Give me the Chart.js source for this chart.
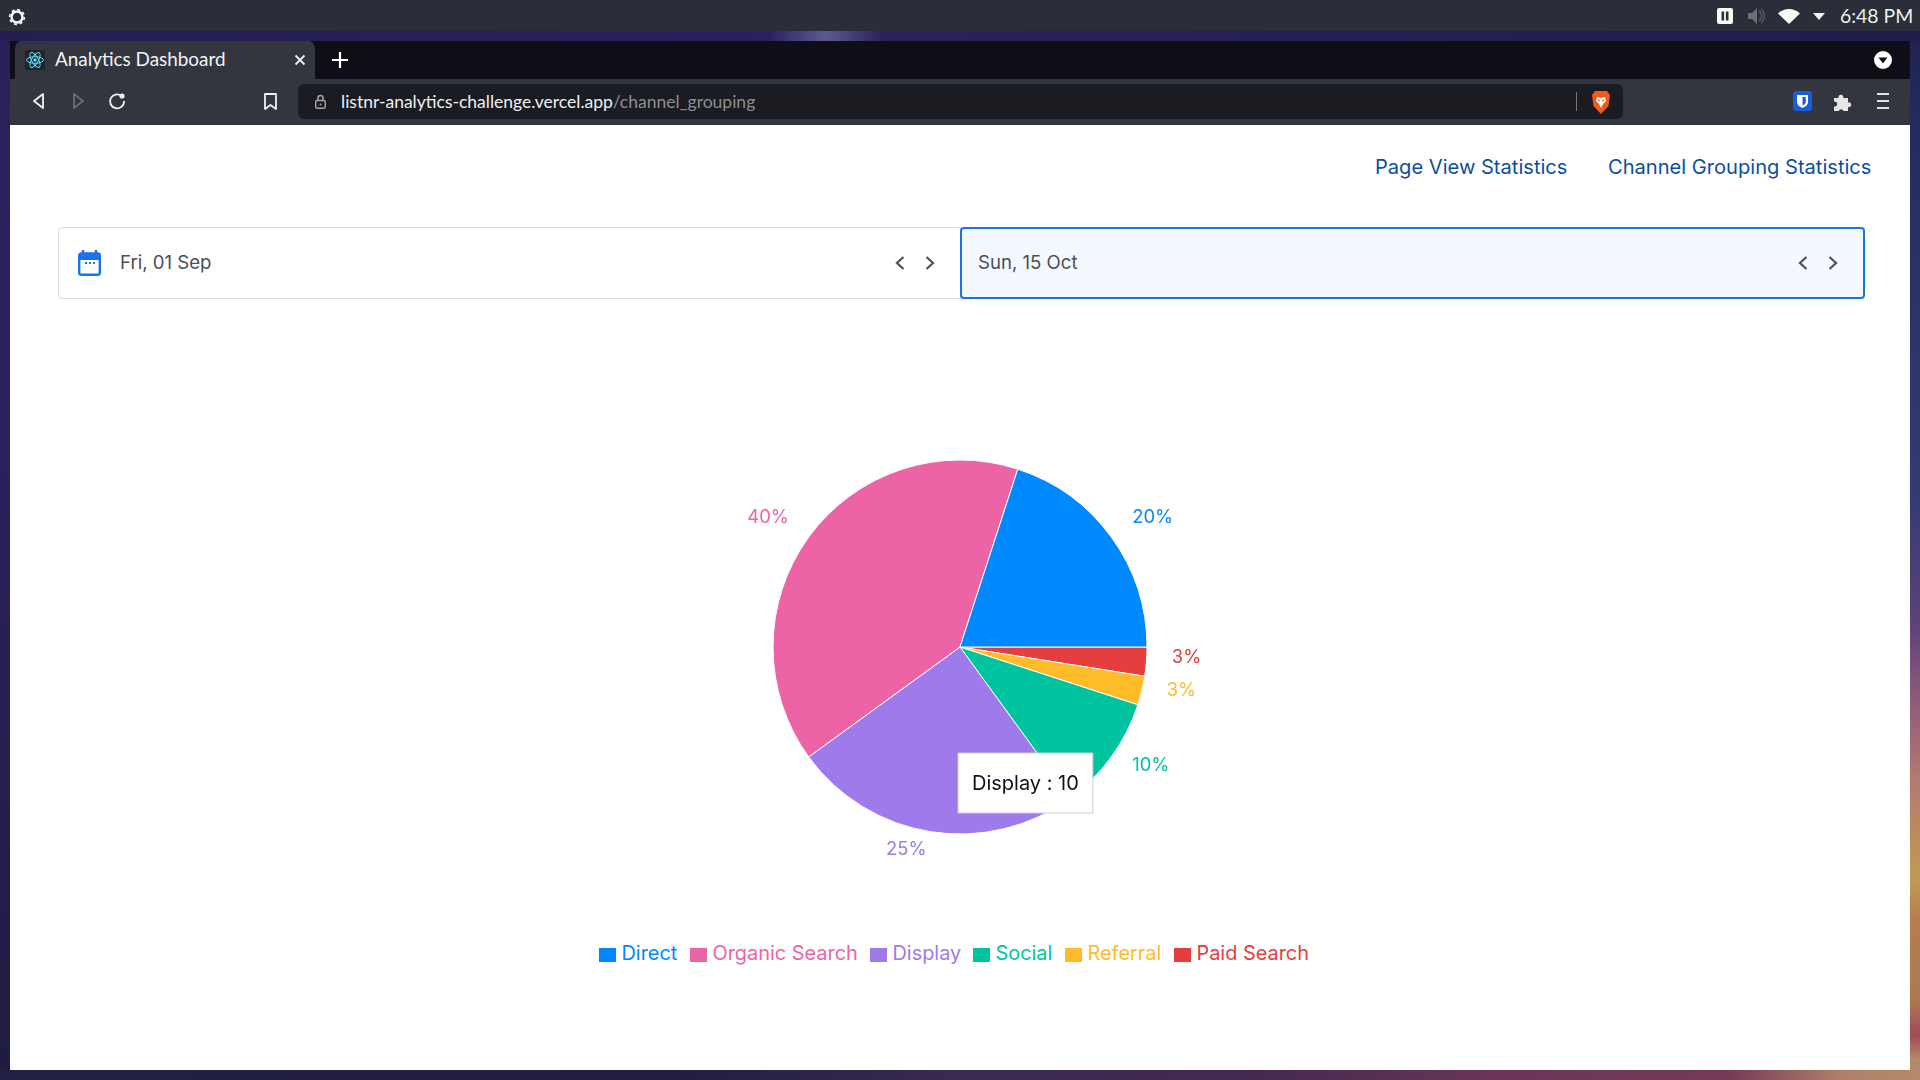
<!DOCTYPE html>
<html><head><meta charset="utf-8"><title>Analytics Dashboard</title>
<script src="https://cdn.jsdelivr.net/npm/chart.js@4"></script>
<style>
*{box-sizing:border-box}
html,body{margin:0;padding:0;width:1920px;height:1080px;overflow:hidden;background:#221f45;font-family:Inter,sans-serif}
.a{position:absolute}
.t{position:absolute;white-space:nowrap;line-height:1}
svg{position:absolute;overflow:visible}
</style></head><body>
<div class="a" style="left:0;top:0;width:10px;height:1080px;background:linear-gradient(#2a2058,#2c2160 30%,#261f50 70%,#1f1c40)"></div>
<div class="a" style="left:1910px;top:0;width:10px;height:1080px;background:linear-gradient(#1f1e4a 0,#262a5e 120px,#363a74 500px,#5a4278 620px,#8e5a7a 700px,#b47a70 780px,#c09a50 880px,#b57d50 920px,#ad7a50 1000px,#a04a58 1035px,#b48a6a 1060px,#b48a6a 1080px)"></div>
<div class="a" style="left:0;top:1070px;width:1920px;height:10px;background:linear-gradient(90deg,#221f45 0,#211d40 35%,#3a2a55 50%,#43294f 65%,#6a3558 78%,#763a58 90%,#b08068 96%,#b48a6a 100%)"></div>
<div class="a" style="left:0;top:31px;width:1920px;height:10px;background:linear-gradient(90deg,#241e50 0,#2a2060 40%,#5a5a92 43%,#2a2258 46%,#1e1d4c 100%)"></div>
<div class="a" style="left:0;top:0;width:1920px;height:31px;background:#2b2e39"></div>
<div class="a" style="left:10px;top:41px;width:1900px;height:38px;background:#0d0e16"></div>
<div class="a" style="left:15px;top:41px;width:300px;height:38px;background:#33363f;border-radius:7px 7px 0 0"></div>
<div class="a" style="left:10px;top:79px;width:1900px;height:46px;background:#33363f"></div>
<div class="a" style="left:298px;top:84px;width:1325px;height:35px;background:#1b1c22;border-radius:6px"></div>
<div class="a" style="left:10px;top:125px;width:1900px;height:945px;background:#fff"></div>

<!-- chrome icons -->
<svg style="left:7px;top:7px" width="20" height="20" viewBox="0 0 20 20"><circle cx="10" cy="10" r="5.5" fill="none" stroke="#fff" stroke-width="2.4"/><circle cx="10" cy="10" r="7.4" fill="none" stroke="#fff" stroke-width="1.5" stroke-dasharray="3 2.8"/></svg>
<svg style="left:1717px;top:8px" width="16" height="16"><rect width="16" height="16" rx="2" fill="#fbfbf5"/><rect x="4.5" y="3.5" width="2.6" height="9" fill="#2b2e39"/><rect x="8.9" y="3.5" width="2.6" height="9" fill="#2b2e39"/></svg>
<svg style="left:1748px;top:8px" width="17" height="16"><path d="M0 5h4l5-5v16l-5-5H0z" fill="#6d6f76"/><path d="M11 3a6 6 0 0 1 0 10M13 1a9 9 0 0 1 0 14" fill="none" stroke="#56585f" stroke-width="1.6"/></svg>
<svg style="left:1778px;top:9px" width="22" height="15"><path d="M0 4.5C6-1.500 16-1.500 22 4.500L11 15z" fill="#fafaf5"/></svg>
<svg style="left:1813px;top:13px" width="12" height="7"><path d="M0 0h12L6 7z" fill="#f2f2ee"/></svg>
<div class="t" style="left:1840px;top:4px;font:19.400px Lato,sans-serif;color:#f0f0ea">6:48 PM</div>
<svg style="left:25px;top:50px" width="20" height="20" viewBox="-10 -10 20 20"><rect x="-10" y="-10" width="20" height="20" rx="2" fill="#20232a"/><g fill="none" stroke="#61dafb" stroke-width="1"><ellipse rx="8.500" ry="3.300"/><ellipse rx="8.500" ry="3.300" transform="rotate(60)"/><ellipse rx="8.500" ry="3.300" transform="rotate(120)"/></g><circle r="1.700" fill="#61dafb"/></svg>
<div class="t" style="left:55px;top:47px;font:18.900px Lato,sans-serif;color:#f1f2f4">Analytics Dashboard</div>
<svg style="left:295px;top:55px" width="10" height="10"><path d="M0.500 0.500l9 9M9.500 0.500l-9 9" stroke="#eee" stroke-width="1.800"/></svg>
<svg style="left:332px;top:52px" width="16" height="16"><path d="M8 0v16M0 8h16" stroke="#fff" stroke-width="2.200"/></svg>
<svg style="left:1874px;top:51px" width="18" height="18"><circle cx="9" cy="9" r="9" fill="#fff"/><path d="M4.500 6.500h9L9 12.500z" fill="#0d0e16"/></svg>
<svg style="left:33px;top:93px" width="11" height="16"><path d="M10 1v14L1 8z" fill="none" stroke="#f0f0f0" stroke-width="1.800" stroke-linejoin="round"/></svg>
<svg style="left:73px;top:93px" width="11" height="16"><path d="M1 1v14l9-7z" fill="none" stroke="#6b6d73" stroke-width="1.800" stroke-linejoin="round"/></svg>
<svg style="left:108px;top:92px" width="18" height="18"><path d="M13.500 4A7 7 0 1 0 16 9" fill="none" stroke="#f0f0f0" stroke-width="1.800"/><circle cx="14" cy="4" r="2.600" fill="#f0f0f0"/></svg>
<svg style="left:264px;top:93px" width="13" height="17"><path d="M1 1h11v15l-5.500-4L1 16z" fill="none" stroke="#f0f0f0" stroke-width="1.800" stroke-linejoin="round"/></svg>
<svg style="left:315px;top:94px" width="11" height="15"><path d="M3 7V4a2.500 2.500 0 0 1 5 0v3" fill="none" stroke="#a5a6a9" stroke-width="1.500"/><rect x="0.700" y="6.500" width="9.600" height="7.800" rx="1.500" fill="none" stroke="#a5a6a9" stroke-width="1.400"/><circle cx="5.500" cy="10.400" r="1" fill="#a5a6a9"/></svg>
<div class="t" style="left:341px;top:91px;font:17.500px Lato,sans-serif;color:#eef0f2">listnr-analytics-challenge.vercel.app<span style="color:#8c8e93">/channel_grouping</span></div>
<div class="a" style="left:1576px;top:92px;width:1px;height:19px;background:#777"></div>
<svg style="left:1591px;top:91px" width="20" height="23" viewBox="0 0 20 23"><path d="M4 0h12l3 4-1.500 11L10 23 2.500 15 1 4z" fill="#f25a1d"/><path d="M6 6l4 1 4-1 1 4-3 3-2 4-2-4-3-3z" fill="#fff"/><circle cx="7.800" cy="9.500" r="1" fill="#f25a1d"/><circle cx="12.200" cy="9.500" r="1" fill="#f25a1d"/></svg>
<svg style="left:1793px;top:91px" width="19" height="20"><rect width="19" height="20" rx="3" fill="#175ddc"/><path d="M4 4h11v7c0 3-3 5-5.500 6C7 16 4 14 4 11z" fill="#fff"/><path d="M9.500 6h3.300v5c0 1.500-1.500 2.600-3.300 3.500z" fill="#175ddc"/></svg>
<svg style="left:1834px;top:93px" width="18" height="18"><path d="M0 5h4.500a2.500 2.500 0 1 1 4.800 0H14v4.500a2.400 2.400 0 1 1 0 4.500V18H9.500a2.500 2.500 0 0 0-4.800 0H0v-4.500a2.500 2.500 0 1 0 0-4.800z" fill="#e6e6e6"/></svg>
<svg style="left:1877px;top:92px" width="12" height="18"><path d="M0 2h12M0 9h12M0 16h12" stroke="#e0e0e0" stroke-width="1.800"/></svg>

<!-- page -->
<div class="t" id="nav1" style="left:1375px;top:155px;font:20.100px Inter,sans-serif;color:#0b4f9e">Page View Statistics</div>
<div class="t" id="nav2" style="left:1608px;top:155px;font:20.100px Inter,sans-serif;color:#0b4f9e">Channel Grouping Statistics</div>
<div class="a" style="left:58px;top:227px;width:903px;height:72px;border:1px solid #d9dce1;border-radius:4px 0 0 4px;background:#fff"></div>
<div class="a" style="left:960px;top:227px;width:905px;height:72px;border:2px solid #1a73e8;border-radius:4px;background:#f4f8ff"></div>
<svg style="left:78px;top:250px" width="23" height="26"><path d="M5 0v5M18 0v5" stroke="#1a73e8" stroke-width="2.500"/><rect x="1.200" y="3.500" width="20.600" height="21.300" rx="2" fill="#fff" stroke="#1a73e8" stroke-width="2.400"/><rect x="1" y="3.500" width="21" height="6.500" fill="#1a73e8"/><path d="M7 13h2M11 13h2M15 13h2" stroke="#1a73e8" stroke-width="2"/></svg>
<div class="t" style="left:120px;top:251px;font:18.600px Inter,sans-serif;color:#4a4f57">Fri, 01 Sep</div>
<div class="t" style="left:978px;top:251px;font:18.600px Inter,sans-serif;color:#4a4f57">Sun, 15 Oct</div>
<svg style="left:895px;top:256px" width="10" height="14"><path d="M8.500 1L2 7l6.500 6" fill="none" stroke="#50555c" stroke-width="2.300"/></svg>
<svg style="left:925px;top:256px" width="10" height="14"><path d="M1.500 1L8 7l-6.500 6" fill="none" stroke="#50555c" stroke-width="2.300"/></svg>
<svg style="left:1798px;top:256px" width="10" height="14"><path d="M8.500 1L2 7l6.500 6" fill="none" stroke="#50555c" stroke-width="2.300"/></svg>
<svg style="left:1828px;top:256px" width="10" height="14"><path d="M1.500 1L8 7l-6.500 6" fill="none" stroke="#50555c" stroke-width="2.300"/></svg>

<div class="a" style="left:10px;top:400px;width:1900px;height:494px"><canvas id="c" width="1900" height="494"></canvas></div>
<div id="legend"></div>

<script>
const categories = ['Direct','Organic Search','Display','Social','Referral','Paid Search'];
const sessions = [8,16,10,4,1,1];
const colors = ['#0088FE','#ED64A6','#9F7AEA','#00C49F','#FFBB28','#E53E3E'];
const tooltipCategory = 'Display';

// Reference runs counter-clockwise from 3 o'clock; Chart.js runs clockwise, so feed it reversed.
const rev = a => a.slice().reverse();
const total = sessions.reduce((s,v)=>s+v,0);

const outerLabels = {
  id:'outerLabels',
  afterDatasetsDraw(chart){
    const ctx = chart.ctx, meta = chart.getDatasetMeta(0), ds = chart.data.datasets[0];
    ctx.save();
    ctx.font = '18.4px Inter, sans-serif';
    ctx.textBaseline = 'middle';
    meta.data.forEach((arc,i)=>{
      const p = arc.getProps(['x','y','startAngle','endAngle','outerRadius'],true);
      const mid = (p.startAngle+p.endAngle)/2, r = p.outerRadius+24;
      const right = Math.cos(mid) >= 0;
      ctx.textAlign = right ? 'left' : 'right';
      ctx.fillStyle = ds.backgroundColor[i];
      ctx.fillText(Math.round(ds.data[i]/total*100)+'%', p.x+r*Math.cos(mid)+(right?1.5:-0.5), p.y+r*Math.sin(mid)-6);
    });
    ctx.restore();
  }
};

Chart.Tooltip.positioners.atPointer = (items,pos)=>pos;

const chart = new Chart(document.getElementById('c'),{
  type:'pie',
  data:{labels:rev(categories),datasets:[{data:rev(sessions),backgroundColor:rev(colors),borderColor:'#fff',borderWidth:1}]},
  options:{
    responsive:false,animation:false,events:[],rotation:90,
    layout:{padding:{top:59.5,bottom:59.5,left:60,right:60}},
    plugins:{
      legend:{display:false},
      tooltip:{
        position:'atPointer',xAlign:'left',yAlign:'top',caretSize:0,caretPadding:0,cornerRadius:0,
        backgroundColor:'#fff',borderColor:'#ccc',borderWidth:1,displayColors:false,
        bodyColor:'#111',bodyFont:{family:'Inter',size:20,weight:'normal'},padding:{left:14,right:14,top:19,bottom:17},
        callbacks:{title:()=>'',label:c=>c.label+' : '+c.parsed}
      }
    }
  },
  plugins:[outerLabels]
});
chart.tooltip.setActiveElements([{datasetIndex:0,index:rev(categories).indexOf(tooltipCategory)}],{x:948,y:353});
chart.update();

// legend
const legendBoxX = [599,690,870,973,1065,1174];
const lg = document.getElementById('legend');
categories.forEach((n,i)=>{
  const b=document.createElement('div');b.className='a';
  b.style.cssText=`left:${legendBoxX[i]}px;top:948px;width:17px;height:14px;background:${colors[i]}`;
  const t=document.createElement('div');t.className='t';t.textContent=n;
  t.style.cssText=`left:${legendBoxX[i]+22.5}px;top:941px;font:19.9px Inter,sans-serif;color:${colors[i]}`;
  lg.append(b,t);
});
</script>
</body></html>
